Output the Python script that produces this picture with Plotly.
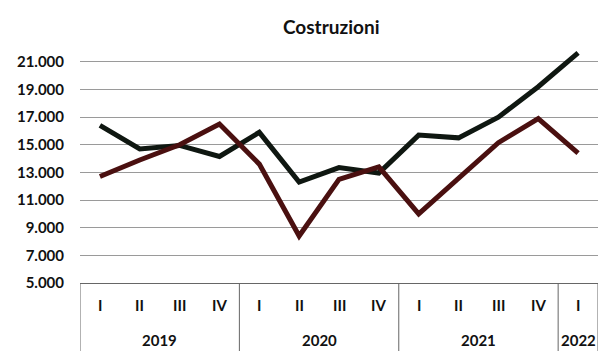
import plotly.graph_objects as go

years = ["2019"] * 4 + ["2020"] * 4 + ["2021"] * 4 + ["2022"]
quarters = ["I", "II", "III", "IV", "I", "II", "III", "IV", "I", "II", "III", "IV", "I"]

serie_nera = [16400, 14700, 14950, 14150, 15900, 12300, 13350, 12950, 15700, 15500, 17000, 19200, 21650]
serie_rossa = [12700, 13900, 15000, 16500, 13600, 8400, 12500, 13400, 10000, 12600, 15150, 16900, 14400]

y_ticks = [5000, 7000, 9000, 11000, 13000, 15000, 17000, 19000, 21000]

idx = list(range(len(quarters)))

fig = go.Figure()
fig.add_trace(go.Scatter(
    x=idx, y=serie_nera, mode="lines",
    line=dict(color="#0f1711", width=5), showlegend=False,
))
fig.add_trace(go.Scatter(
    x=idx, y=serie_rossa, mode="lines",
    line=dict(color="#4a1010", width=5), showlegend=False,
))

label_font = dict(family="Lato", size=15, color="#111", weight="bold")
annotations = []
for i, q in enumerate(quarters):
    annotations.append(dict(x=i, xref="x", y=-0.094, yref="paper", text=q,
                            showarrow=False, font=label_font, yanchor="middle"))

# year groups
groups = []
for i, yv in enumerate(years):
    if not groups or groups[-1][0] != yv:
        groups.append([yv, i, i])
    else:
        groups[-1][2] = i

shapes = []
boundaries = [groups[0][1] - 0.5] + [g[2] + 0.5 for g in groups]
for b in boundaries:
    shapes.append(dict(type="line", xref="x", yref="paper", x0=b, x1=b, y0=0, y1=-0.35,
                       line=dict(color="#666", width=1)))
for g in groups:
    annotations.append(dict(x=(g[1] + g[2]) / 2, xref="x", y=-0.243, yref="paper", text=g[0],
                            showarrow=False, font=label_font, yanchor="middle"))

fig.update_layout(
    width=599, height=351,
    margin=dict(l=80, r=1, t=48, b=68),
    paper_bgcolor="white", plot_bgcolor="white",
    separators=",.",
    title=dict(text="Costruzioni", x=0.485, xref="paper", xanchor="center", y=0.923, yanchor="middle",
               font=dict(family="Lato", size=19, color="#111", weight="bold")),
    font=dict(family="Lato", color="#111"),
    annotations=annotations,
    shapes=shapes,
)
fig.update_yaxes(
    range=[5000, 22000], tickvals=y_ticks, tickformat=",.0f",
    showgrid=True, gridcolor="#9a9a9a", gridwidth=1,
    zeroline=False, showline=False,
    tickfont=dict(family="Lato", size=15, color="#111", weight="bold"),
    ticks="", ticklabelstandoff=15,
)
fig.update_xaxes(
    range=[-0.5, len(quarters) - 0.5], showticklabels=False,
    showline=True, linecolor="#666", linewidth=1,
    showgrid=False, ticks="", zeroline=False,
)

fig.write_html("out.html")
